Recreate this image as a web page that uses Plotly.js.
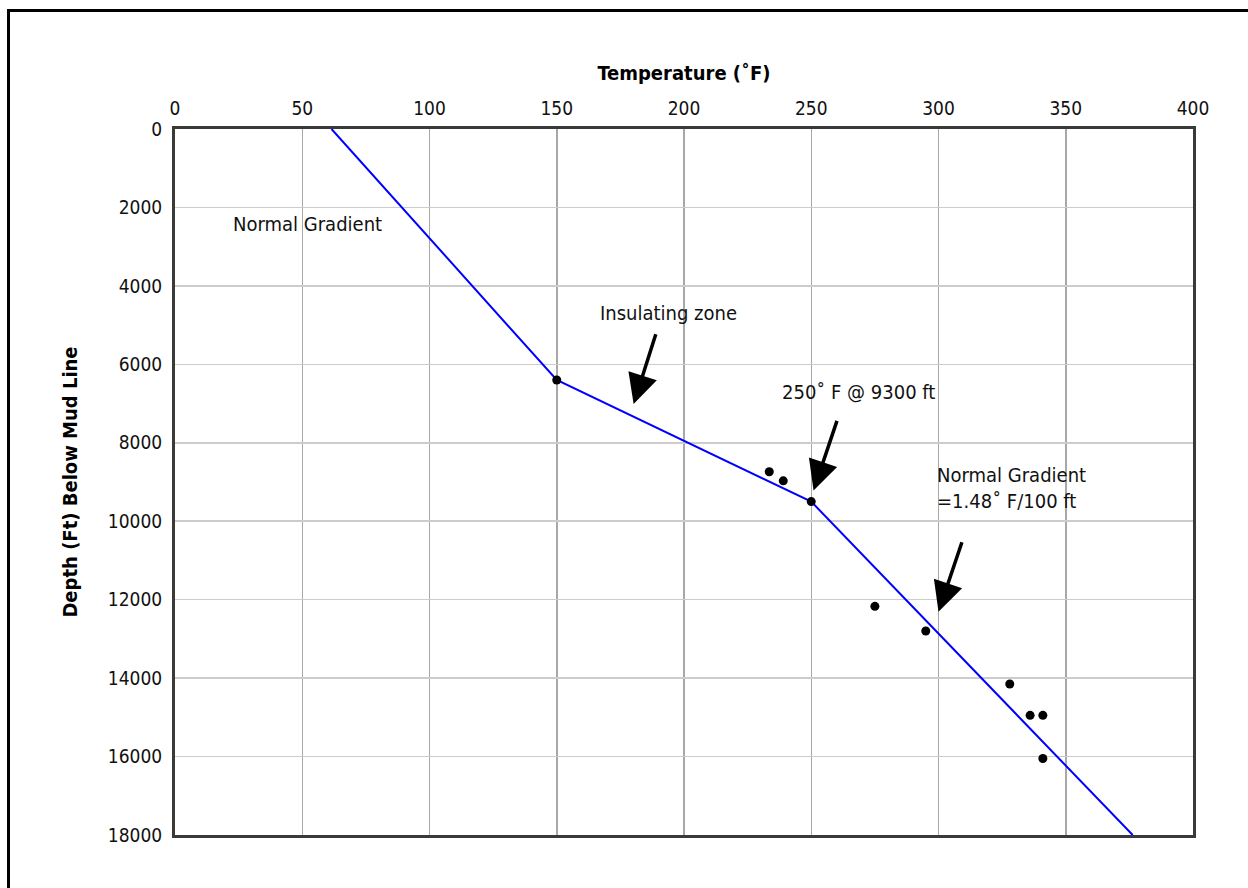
<!DOCTYPE html>
<html>
<head>
<meta charset="utf-8">
<script src="https://cdn.plot.ly/plotly-3.0.1.min.js"></script>
<style>
  html, body { margin: 0; padding: 0; background: #fff; overflow: hidden; }
  #chart { width: 1248px; height: 888px; position: absolute; left: 0; top: 0; }
  #frame { position: absolute; left: 7px; top: 9px; width: 1400px; height: 1100px;
           border-left: 3px solid #000; border-top: 3px solid #000; pointer-events: none; }
</style>
</head>
<body>
<div id="chart"></div>
<div id="frame"></div>
<script>
// Gradient line (temperature °F vs depth ft)
const lineTemp = [61.5, 150, 250, 376.3];
const lineDepth = [0, 6400, 9500, 18000];

// Measured points
const ptTemp = [150, 233.5, 239, 250, 275, 295, 328, 336, 341, 341];
const ptDepth = [6400, 8740, 8970, 9500, 12170, 12800, 14150, 14950, 14950, 16050];

// Tick values and labels
const xTicks = [0, 50, 100, 150, 200, 250, 300, 350, 400];
const xTickLabels = ["0", "50", "100", "150", "200", "250", "300", "350", "400"];
const yTicks = [0, 2000, 4000, 6000, 8000, 10000, 12000, 14000, 16000, 18000];
const yTickLabels = ["0", "2000", "4000", "6000", "8000", "10000", "12000", "14000", "16000", "18000"];

// Labels
const labelText = ["Normal Gradient", "Insulating zone", "250˚ F @ 9300 ft", "Normal Gradient<br>=1.48˚ F/100 ft"];
const labelX = [52, 194, 268.5, 298.5];
const labelY = [2420, 4690, 6700, 9150];
const labelAlign = ["center", "center", "center", "left"];
const labelXAnchor = ["center", "center", "center", "left"];

// Arrows: tail -> head
const arrowTailX = [189.1, 260.3, 309.4];
const arrowTailY = [5194, 7402, 10497];
const arrowHeadX = [180.2, 250.9, 300.0];
const arrowHeadY = [7012, 9218, 12307];

const FONT = '"DejaVu Sans Condensed", "Liberation Sans Narrow", "Arial Narrow", sans-serif';

const traces = [
  {
    x: lineTemp, y: lineDepth, type: 'scatter', mode: 'lines',
    line: { color: '#0000ff', width: 2 }, hoverinfo: 'skip', showlegend: false
  },
  {
    x: ptTemp, y: ptDepth, type: 'scatter', mode: 'markers',
    marker: { color: '#000', size: 9 }, showlegend: false
  }
];

const annotations = [];
for (let i = 0; i < labelText.length; i++) {
  annotations.push({
    x: labelX[i], y: labelY[i], xref: 'x', yref: 'y',
    text: labelText[i], showarrow: false, align: labelAlign[i],
    xanchor: labelXAnchor[i], yanchor: 'middle',
    font: { family: FONT, size: 20, color: '#111' }
  });
}
for (let i = 0; i < arrowTailX.length; i++) {
  annotations.push({
    x: arrowHeadX[i], y: arrowHeadY[i], xref: 'x', yref: 'y',
    ax: arrowTailX[i], ay: arrowTailY[i], axref: 'x', ayref: 'y',
    text: '', showarrow: true, arrowhead: 2, arrowsize: 1.7,
    arrowwidth: 3.5, arrowcolor: '#000', standoff: 0
  });
}

const layout = {
  width: 1248, height: 888,
  margin: { l: 174.5, r: 55, t: 129, b: 53 },
  paper_bgcolor: '#fff', plot_bgcolor: '#fff',
  font: { family: FONT, size: 19, color: '#111' },
  xaxis: {
    side: 'top', range: [0, 400], tickvals: xTicks, ticktext: xTickLabels, ticks: '',
    showgrid: true, gridcolor: '#a8a8a8', gridwidth: 1.5,
    showline: true, mirror: true, linecolor: '#3a3a3a', linewidth: 3,
    zeroline: false, tickfont: { family: FONT, size: 19, color: '#111' },
    ticklabelstandoff: 3,
    title: { text: 'Temperature (˚F)', font: { family: FONT, size: 20, color: '#000', weight: 'bold' }, standoff: 12 }
  },
  yaxis: {
    range: [18000, 0], tickvals: yTicks, ticktext: yTickLabels, ticks: '',
    showgrid: true, gridcolor: '#cccccc', gridwidth: 1.5,
    showline: true, mirror: true, linecolor: '#3a3a3a', linewidth: 3,
    zeroline: false, tickfont: { family: FONT, size: 19, color: '#111' },
    ticklabelstandoff: 6,
    title: { text: 'Depth (Ft) Below Mud Line', font: { family: FONT, size: 20, color: '#000', weight: 'bold' }, standoff: 25 }
  },
  annotations: annotations
};

Plotly.newPlot('chart', traces, layout, { displayModeBar: false, staticPlot: true });
</script>
</body>
</html>
